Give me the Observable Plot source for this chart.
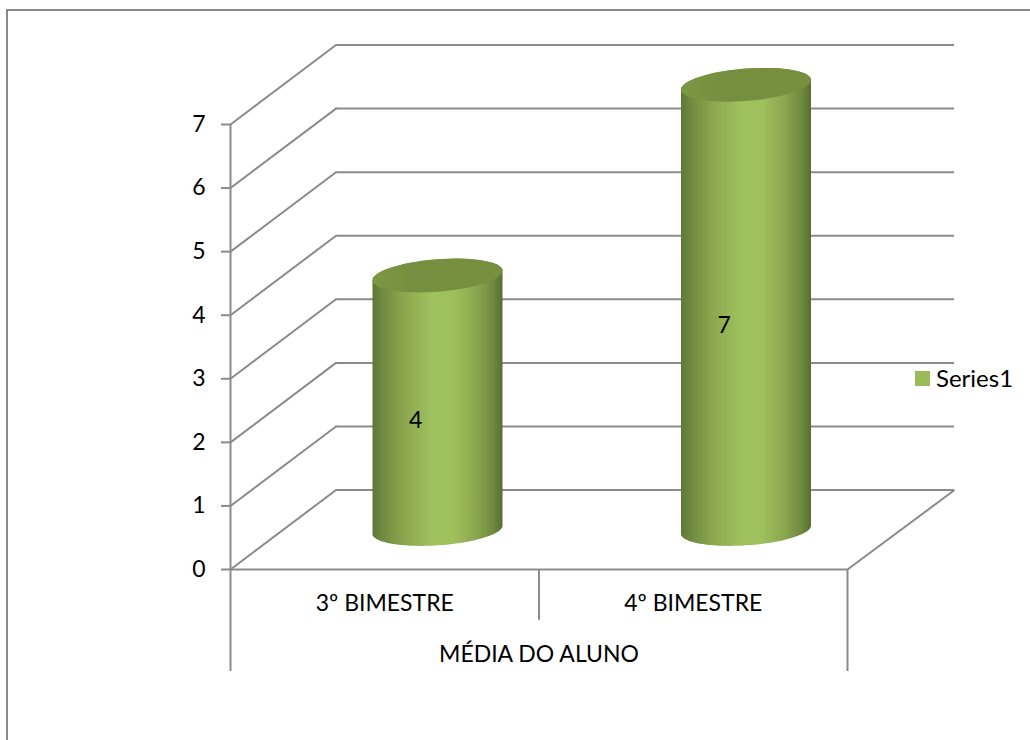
<!DOCTYPE html>
<html>
<head>
<meta charset="utf-8">
<script src="https://cdn.jsdelivr.net/npm/d3@7"></script>
<script src="https://cdn.jsdelivr.net/npm/@observablehq/plot@0.6"></script>
<style>
  html, body { margin: 0; padding: 0; background: #fff; }
  #sheet { position: relative; width: 1030px; height: 740px; overflow: hidden; font-family: Lato, sans-serif; color: #000; }
  #border { position: absolute; left: 6px; top: 9px; width: 1040px; height: 760px; border: 2px solid #8a8a8a; box-sizing: border-box; }
  #chart { position: absolute; left: 0; top: 0; }
  #legend { position: absolute; left: 915px; top: 361px; display: flex; align-items: center; gap: 6px; font-size: 24px; line-height: 34px; }
  #legend i { display: block; width: 15px; height: 15px; background: #9bbb59; }
</style>
</head>
<body>
<div id="sheet">
  <div id="border"></div>
  <div id="chart"></div>
  <div id="legend"><i></i><span>Series1</span></div>
</div>
<script>
// Chart values
const categories = ["3º BIMESTRE", "4º BIMESTRE"];
const values = [4, 7];
const groupLabel = "MÉDIA DO ALUNO";
const yTicks = [0, 1, 2, 3, 4, 5, 6, 7];

// Oblique projection of the 3D box, in axis units
const depthX = 0.342;
const depthXFloor = 0.347;
const depthY = 1.25;
const axisDrop = -1.604;
const catDrop = -0.8;

const gridColor = "#8b8b8b";
const labelSize = 23;

const wall = yTicks.map((v) => ({x1: depthX, x2: 2 + depthXFloor, y: v + depthY}));
const side = yTicks.map((v) => ({x1: 0, y1: v, x2: depthX, y2: v + depthY}));

// Closed outline of a slanted ellipse around the cylinder axis
function ellipse(i, v) {
  const cx = i + 0.5 + depthX / 2;
  const cy = v + depthY / 2;
  return d3.range(0, 72).map((k) => {
    const t = (k / 72) * 2 * Math.PI;
    return {
      i,
      x: cx + 0.2107 * Math.cos(t),
      y: cy + 0.255 * Math.sin(t) + 0.075 * Math.cos(t)
    };
  });
}

// Body: lower half of the base ellipse, then upper half of the cap's front rim
function body(i, v) {
  const cx = i + 0.5 + depthX / 2;
  const base = depthY / 2;
  const top = v + depthY / 2;
  const pts = [];
  for (let k = 0; k <= 36; ++k) {
    const t = Math.PI + (k / 36) * Math.PI;
    pts.push({i, x: cx + 0.2107 * Math.cos(t), y: base + 0.245 * Math.sin(t) + 0.065 * Math.cos(t)});
  }
  for (let k = 0; k <= 36; ++k) {
    const t = (k / 36) * Math.PI;
    pts.push({i, x: cx + 0.2107 * Math.cos(t), y: top + 0.255 * Math.sin(t) + 0.075 * Math.cos(t)});
  }
  return pts;
}

const bodies = categories.flatMap((_, i) => body(i, values[i]));
const caps = categories.flatMap((_, i) => ellipse(i, values[i]));
const labels = categories.map((c, i) => ({i, c, v: values[i]}));

// Shading used by the cylinders
function gradients() {
  const defs = d3.create("svg:defs");
  const side = defs.append("linearGradient").attr("id", "cyl-side");
  [[0, "#5e7737"], [0.08, "#708b40"], [0.25, "#8ca850"], [0.45, "#9ec05d"], [0.62, "#9fc15d"], [0.8, "#8aa64e"], [0.93, "#6f893e"], [1, "#586e31"]]
    .forEach(([o, c]) => side.append("stop").attr("offset", o).attr("stop-color", c));
  const cap = defs.append("linearGradient").attr("id", "cyl-cap");
  [[0, "#7b9843"], [0.3, "#758f40"], [1, "#76903f"]]
    .forEach(([o, c]) => cap.append("stop").attr("offset", o).attr("stop-color", c));
  return defs.node();
}

const chart = Plot.plot({
  width: 1030,
  height: 740,
  marginLeft: 230,
  marginRight: 183,
  marginTop: 124,
  marginBottom: 171,
  style: {background: "transparent", fontFamily: "Lato, sans-serif", overflow: "visible"},
  x: {domain: [0, 2], axis: null},
  y: {domain: [0, 7], axis: null},
  marks: [
    gradients,
    // Back wall and side wall gridlines
    Plot.ruleY(wall, {x1: "x1", x2: "x2", y: "y", stroke: gridColor, strokeWidth: 2}),
    Plot.link(side, {x1: "x1", y1: "y1", x2: "x2", y2: "y2", stroke: gridColor, strokeWidth: 2, strokeLinecap: "round"}),
    Plot.link([{}], {x1: () => 2, y1: () => 0, x2: () => 2 + depthXFloor, y2: () => depthY, stroke: gridColor, strokeWidth: 2}),
    // Value axis, floor edge and multi-level category axis
    Plot.axisY(yTicks, {anchor: "left", label: null, tickSize: 9, tickPadding: 16, stroke: gridColor, strokeWidth: 2, fontSize: labelSize, fill: "#000", tickFormat: (d) => d}),
    Plot.ruleY([0], {x1: 0, x2: 2, stroke: gridColor, strokeWidth: 2}),
    Plot.ruleX([0], {y1: axisDrop, y2: 7, stroke: gridColor, strokeWidth: 2}),
    Plot.ruleX([2], {y1: axisDrop, y2: 0, stroke: gridColor, strokeWidth: 2}),
    Plot.ruleX([1], {y1: catDrop, y2: 0, stroke: gridColor, strokeWidth: 2}),
    Plot.text(labels, {x: (d) => d.i + 0.5, y: () => -0.54, text: "c", fontSize: labelSize, fill: "#000"}),
    Plot.text([groupLabel], {x: () => 1, y: () => -1.34, text: (d) => d, fontSize: labelSize, fill: "#000"}),
    // Cylinders
    Plot.line(bodies, {x: "x", y: "y", z: "i", curve: "linear-closed", fill: "url(#cyl-side)", stroke: "none"}),
    Plot.line(caps, {x: "x", y: "y", z: "i", curve: "linear-closed", fill: "url(#cyl-cap)", stroke: "none"}),
    // Data labels
    Plot.text(labels, {x: (d) => d.i + 0.6, y: (d) => d.v / 2 + 0.34, text: "v", fontSize: labelSize, fill: "#000"})
  ]
});
document.getElementById("chart").append(chart);
</script>
</body>
</html>
